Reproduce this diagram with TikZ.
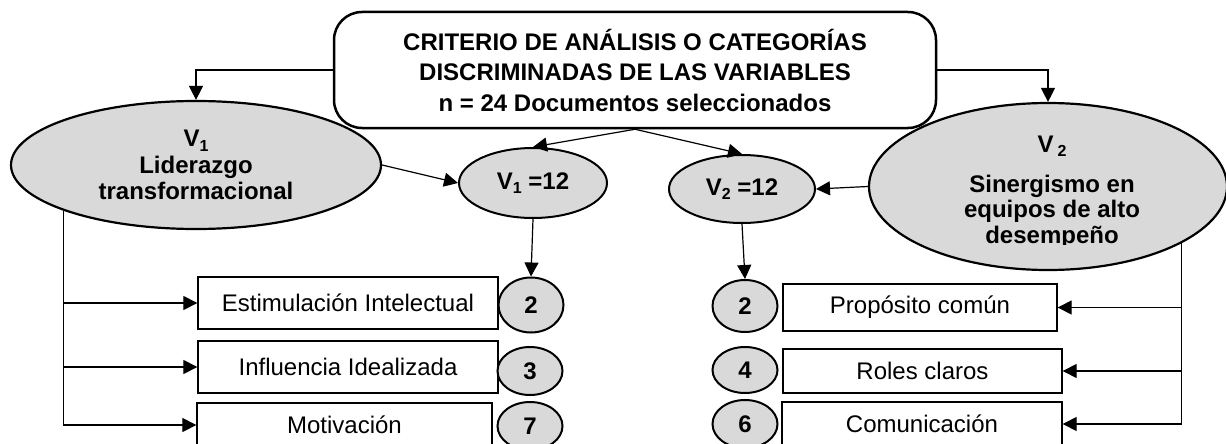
\documentclass[tikz,border=0pt]{standalone}
\usepackage{fontspec}
\setmainfont{Liberation Sans}
\usetikzlibrary{shapes.geometric,arrows.meta}
\definecolor{fillgray}{HTML}{D9D9D9}
\newcommand\mysub[1]{\raisebox{-0.35ex}{\fontsize{16}{16}\selectfont #1}}
\begin{document}
\begin{tikzpicture}[x=1pt,y=-1pt,
  arr/.style={-{Triangle[length=14pt,width=14pt]}, line width=1.2pt},
  bigell/.style={ellipse, draw, line width=2.2pt, fill=fillgray, inner sep=0pt, align=center, font=\fontsize{24}{26.5}\selectfont\bfseries},
  smallell/.style={ellipse, draw, line width=2pt, fill=fillgray, inner sep=0pt, font=\fontsize{24}{26}\selectfont\bfseries},
  numell/.style={ellipse, draw, line width=2pt, fill=fillgray, inner sep=0pt, minimum width=65pt, font=\fontsize{24}{26}\selectfont\bfseries},
  catbox/.style={rectangle, draw, line width=1.3pt, fill=white, inner sep=0pt, font=\fontsize{24}{26}\selectfont},
  titlebox/.style={rectangle, rounded corners=28pt, draw, line width=2.5pt, fill=white, align=center, inner sep=0pt, font=\fontsize{24}{30.5}\selectfont\bfseries},
  v2line/.style={anchor=base, inner sep=0pt, font=\fontsize{24}{26}\selectfont\bfseries}
]
\useasboundingbox (0,0) rectangle (1226,444);

% title
\node[titlebox, minimum width=602pt, minimum height=116pt] (title) at (635,70)
  {CRITERIO DE ANÁLISIS O CATEGORÍAS\\DISCRIMINADAS DE LAS VARIABLES\\n = 24 Documentos seleccionados};

% big ellipses
\node[bigell, minimum width=370pt, minimum height=128pt] (V1) at (196,165)
  {V\mysub{1}\\Liderazgo\\transformacional};
\node[bigell, minimum width=358pt, minimum height=167pt] (V2) at (1048,186.5) {};
\begin{scope}
  \clip (860,100) rectangle (1230,244.5);
  \node[v2line] (v2a) at (1052,152) {V\,\mysub{2}};
  \node[v2line] (v2b) at (1052,192) {Sinergismo en};
  \node[v2line] (v2c) at (1052,217.5) {equipos de alto};
  \node[v2line] (v2d) at (1052,243) {desempeño};
\end{scope}

% small ellipses
\node[smallell, minimum width=148pt, minimum height=70pt] (v1s) at (533,183) {V\mysub{1} =12};
\node[smallell, minimum width=146pt, minimum height=68pt] (v2s) at (742,189) {V\mysub{2} =12};

% left boxes
\node[catbox, minimum width=300pt, minimum height=52pt] (b1) at (348,303) {Estimulación Intelectual};
\node[catbox, minimum width=300pt, minimum height=52pt] (b2) at (348,367) {Influencia Idealizada};
\node[catbox, minimum width=295pt, minimum height=44pt] (b3) at (344.5,425) {Motivación};

% right boxes
\node[catbox, minimum width=274pt, minimum height=47pt] (r1) at (920,307.5) {Propósito común};
\node[catbox, minimum width=279pt, minimum height=44pt] (r2) at (922.5,371) {Roles claros};
\node[catbox, minimum width=280pt, minimum height=44pt] (r3) at (922,424) {Comunicación};

% number circles
\node[numell, minimum height=55pt] (c1) at (531,305) {2};
\node[numell, minimum height=48pt] (c2) at (530,371) {3};
\node[numell, minimum height=48pt] (c3) at (530,426) {7};
\node[numell, minimum height=52pt] (d1) at (745,306) {2};
\node[numell, minimum height=46pt] (d2) at (745,370) {4};
\node[numell, minimum height=48pt] (d3) at (745,424) {6};

% connectors
\draw[arr] (title.west) -| (V1.north);
\draw[arr] (title.east) -| (V2.north);
\draw[arr] (title.south) -- (v1s.north);
\draw[arr] (title.south) -- (v2s.north);
\draw[arr] (V1.east) -- (v1s.west);
\draw[arr] (V2.west) -- (v2s.east);
\draw[arr] (v1s.south) -- (c1.north);
\draw[arr] (v2s.south) -- (d1.north);

\draw[arr] (V1.199) |- (b1.west);
\draw[arr] (V1.199) |- (b2.west);
\draw[arr] (V1.199) |- (b3.west);
\draw[arr] (V2.337.4) |- (r1.east);
\draw[arr] (V2.337.4) |- (r2.east);
\draw[arr] (V2.337.4) |- (r3.east);
\end{tikzpicture}
\end{document}
